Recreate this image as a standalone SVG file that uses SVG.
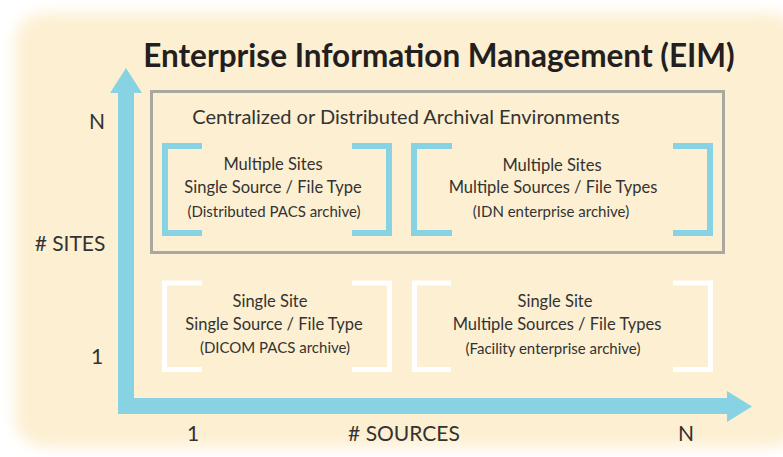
<svg xmlns="http://www.w3.org/2000/svg" width="783" height="457" viewBox="0 0 783 457">
<defs>
<filter id="glow" x="-10%" y="-10%" width="120%" height="120%"><feGaussianBlur stdDeviation="7"/></filter>
<style>
.t{font-family:Lato,"Open Sans","Liberation Sans",sans-serif;fill:#333;}
.title{font-family:Lato,"Open Sans","Liberation Sans",sans-serif;font-weight:bold;font-size:31.5px;fill:#231f20;}
.ax{font-size:21px;}
.l{font-size:16.5px;text-anchor:middle;}
.s{font-size:15px;text-anchor:middle;}
.bb{fill:none;stroke:#87d3e3;stroke-width:6;}
.bw{fill:none;stroke:#ffffff;stroke-width:5;}
.axis{fill:#87d3e3;}
</style>
</defs>
<rect width="783" height="457" fill="#ffffff"/>
<rect x="15" y="13" width="785" height="434" rx="30" fill="#fdefd1" filter="url(#glow)"/>
<text class="title" x="439" y="67" text-anchor="middle">Enterprise Information Management (EIM)</text>
<g id="connectors">
<path class="axis" d="M118,414 V93 H110 L126,68 L142,93 H134 V398 H727 V391 L752,406.5 L727,422 V414 Z"/>
</g>
<g id="axis-labels">
<text class="t ax" x="97" y="129" text-anchor="middle">N</text>
<text class="t ax" x="70" y="251" text-anchor="middle"># SITES</text>
<text class="t ax" x="97" y="364" text-anchor="middle">1</text>
<text class="t ax" x="193" y="441" text-anchor="middle">1</text>
<text class="t ax" x="404" y="441" text-anchor="middle"># SOURCES</text>
<text class="t ax" x="686" y="441" text-anchor="middle">N</text>
</g>
<g id="archival">
<rect x="151.5" y="91.5" width="572" height="161" fill="none" stroke="#a9a79e" stroke-width="3"/>
<text class="t" x="406" y="124" font-size="20" text-anchor="middle">Centralized or Distributed Archival Environments</text>
</g>
<g id="multi-single">
<path class="bb" d="M202,146 H165 V233 H202 M352,146 H389 V233 H352"/>
<text class="t l" x="273" y="170">Multiple Sites</text>
<text class="t l" x="273" y="193">Single Source / File Type</text>
<text class="t s" x="274" y="217">(Distributed PACS archive)</text>
</g>
<g id="multi-multi">
<path class="bb" d="M452,146 H414 V233 H452 M673,146 H710 V233 H673"/>
<text class="t l" x="552" y="171">Multiple Sites</text>
<text class="t l" x="553" y="193">Multiple Sources / File Types</text>
<text class="t s" x="551" y="217">(IDN enterprise archive)</text>
</g>
<g id="single-single">
<path class="bw" d="M202,283 H164.5 V369.5 H202 M352,283 H389.5 V369.5 H352"/>
<text class="t l" x="270" y="307">Single Site</text>
<text class="t l" x="274" y="330">Single Source / File Type</text>
<text class="t s" x="275" y="353">(DICOM PACS archive)</text>
</g>
<g id="single-multi">
<path class="bw" d="M451,283 H414.5 V369.5 H451 M673,283 H710.5 V369.5 H673"/>
<text class="t l" x="555" y="307">Single Site</text>
<text class="t l" x="557" y="330">Multiple Sources / File Types</text>
<text class="t s" x="553" y="354">(Facility enterprise archive)</text>
</g>
</svg>
